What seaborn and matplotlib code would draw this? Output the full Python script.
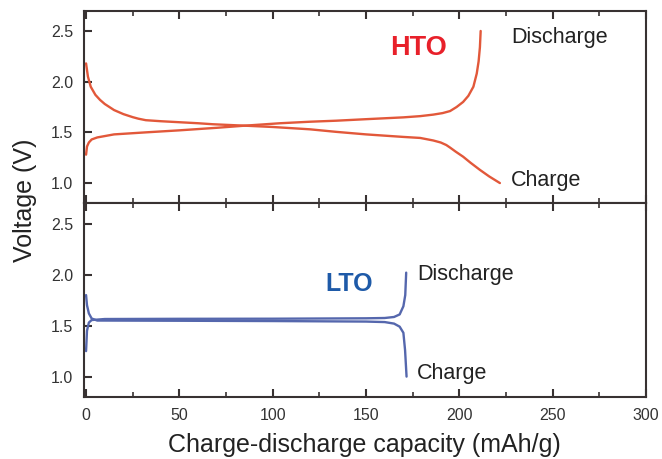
import numpy as np
import pandas as pd
import matplotlib
matplotlib.use("Agg")
import matplotlib.pyplot as plt
import seaborn as sns
from matplotlib.ticker import MultipleLocator

# ---- data ----
hto_charge_x = [0, 1, 2.5, 5, 7.5, 10, 15, 20, 25, 28, 32, 40, 50, 60, 68, 85, 100, 120, 134,
                150, 170, 179, 186, 190, 193, 195, 198, 202, 206, 211, 216, 221.7]
hto_charge_y = [2.18, 2.05, 1.95, 1.87, 1.82, 1.78, 1.72, 1.68, 1.65, 1.635, 1.62, 1.61, 1.60,
                1.59, 1.58, 1.566, 1.553, 1.53, 1.505, 1.48, 1.455, 1.445, 1.42, 1.40, 1.375,
                1.35, 1.31, 1.26, 1.20, 1.13, 1.065, 1.00]
hto_dis_x = [0, 0.5, 1.5, 3, 6, 15, 32, 50, 70, 85, 104, 120, 134, 150, 170, 179, 186, 191,
             195, 198.5, 202, 204.8, 207.5, 209.3, 210.3, 211, 211.4]
hto_dis_y = [1.28, 1.36, 1.40, 1.43, 1.45, 1.48, 1.50, 1.52, 1.545, 1.566, 1.59, 1.605, 1.615,
             1.63, 1.648, 1.66, 1.675, 1.69, 1.71, 1.75, 1.80, 1.86, 1.95, 2.08, 2.20, 2.34, 2.50]

lto_dis_x = [0, 0.5, 1.5, 3, 10, 50, 100, 150, 160, 165, 168, 170, 171, 171.5]
lto_dis_y = [1.25, 1.45, 1.53, 1.555, 1.565, 1.567, 1.568, 1.572, 1.575, 1.585, 1.61, 1.69, 1.80, 2.02]
lto_charge_x = [0, 0.5, 1.5, 3, 6, 50, 100, 150, 160, 165, 168, 170, 170.9, 171.7]
lto_charge_y = [1.80, 1.70, 1.62, 1.57, 1.55, 1.548, 1.545, 1.54, 1.535, 1.52, 1.49, 1.43, 1.26, 1.00]

x_ticks = [0, 50, 100, 150, 200, 250, 300]
y_ticks = [1.0, 1.5, 2.0, 2.5]

HTO_LINE = "#e2583a"
LTO_LINE = "#5567ad"
SPINE = "#383232"

sns.set_theme(style="white")
plt.rcParams["font.family"] = ["Liberation Sans", "DejaVu Sans"]

fig = plt.figure(figsize=(6.62, 4.59), dpi=100)
ax_top = fig.add_axes([0.1269, 0.557, 0.849, 0.4197])
ax_bot = fig.add_axes([0.1269, 0.1351, 0.849, 0.4219])

def df(x, y):
    return pd.DataFrame({"x": x, "y": y})

line_kw = dict(lw=1.7, sort=False, estimator=None)
sns.lineplot(data=df(hto_charge_x, hto_charge_y), x="x", y="y", ax=ax_top, color=HTO_LINE, **line_kw)
sns.lineplot(data=df(hto_dis_x, hto_dis_y), x="x", y="y", ax=ax_top, color=HTO_LINE, **line_kw)
sns.lineplot(data=df(lto_dis_x, lto_dis_y), x="x", y="y", ax=ax_bot, color=LTO_LINE, **line_kw)
sns.lineplot(data=df(lto_charge_x, lto_charge_y), x="x", y="y", ax=ax_bot, color=LTO_LINE, **line_kw)

for ax in (ax_top, ax_bot):
    ax.set_xlim(-1.1, 300)
    ax.set_ylim(0.8, 2.7)
    ax.set_xticks(x_ticks)
    ax.xaxis.set_minor_locator(MultipleLocator(25))
    ax.set_yticks(y_ticks)
    ax.set_yticklabels([f"{v:.1f}" for v in y_ticks])
    ax.set_xlabel("")
    ax.set_ylabel("")
    for s in ax.spines.values():
        s.set_color(SPINE)
        s.set_linewidth(1.5)
    ax.tick_params(axis="x", which="major", direction="in", top=True, bottom=True,
                   length=6, width=1.5, color=SPINE, labelsize=11.5, labelcolor="#333333", pad=8)
    ax.tick_params(axis="x", which="minor", direction="in", top=True, bottom=True,
                   length=3.5, width=1.2, color=SPINE)
    ax.tick_params(axis="y", which="major", direction="in", left=True, right=False,
                   length=6, width=1.5, color=SPINE, labelsize=11.5, labelcolor="#333333", pad=8)
    ax.set_facecolor("white")

ax_top.tick_params(axis="x", labelbottom=False)

txt_kw = dict(fontsize=15.5, color="#222222", va="baseline", ha="left")
ax_top.text(227.6, 2.386, "Discharge", **txt_kw)
ax_top.text(227.6, 0.974, "Charge", **txt_kw)
ax_top.text(163.0, 2.262, "HTO", fontsize=19.5, fontweight="bold", color="#e8202a",
            va="baseline", ha="left")

ax_bot.text(177.3, 1.95, "Discharge", **txt_kw)
ax_bot.text(177.3, 0.974, "Charge", **txt_kw)
ax_bot.text(128.0, 1.835, "LTO", fontsize=18, fontweight="bold", color="#1e5aa8",
            va="baseline", ha="left")

fig.text(0.55, 1 - 445 / 459, "Charge-discharge capacity (mAh/g)", ha="center", va="center",
         fontsize=18, color="#222222")
fig.text(25 / 662, 1 - 200 / 459, "Voltage (V)", ha="center", va="center", rotation=90,
         fontsize=18, color="#222222")

fig.savefig("out.png", dpi=100, facecolor="white")
